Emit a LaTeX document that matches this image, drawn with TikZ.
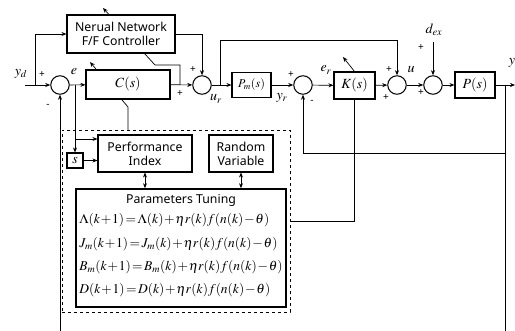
\documentclass[tikz,border=0pt]{standalone}
\usepackage{mathptmx}
\usepackage[no-math]{fontspec}
\setmainfont{Noto Sans}
\usetikzlibrary{arrows.meta}
\newcommand\tighteq[1]{$\medmuskip=1mu\thickmuskip=2mu #1$}
\begin{document}
\begin{tikzpicture}[x=1pt,y=-1pt,
  line width=0.7pt,
  >={Stealth[length=5pt,width=4pt]},
  blk/.style={draw, line width=1.1pt, fill=white, inner sep=0pt},
  sum/.style={draw, circle, line width=1pt, minimum size=18.5pt, inner sep=0pt, fill=white},
  lbl/.style={inner sep=0pt, font=\fontsize{14}{14}\selectfont},
  pm/.style={inner sep=0pt, font=\fontsize{10}{10}\selectfont},
  txt/.style={font=\fontsize{12.3}{14}\selectfont, align=center},
  eq/.style={anchor=west, inner sep=0pt, font=\fontsize{13.5}{13.5}\selectfont}
]
\useasboundingbox (0,0) rectangle (515,331);

% summing junctions
\node[sum] (s1) at (60,85) {};
\node[sum] (s2) at (202,85) {};
\node[sum] (s3) at (303,85) {};
\node[sum] (s4) at (397,85) {};
\node[sum] (s5) at (433,85) {};

% dashed box
\node[draw, dashed, line width=0.8pt, minimum width=228pt, minimum height=182pt, inner sep=0pt] (DB) at (176,221) {};

% adaptation paths (drawn behind boxes)
\coordinate (j1) at (180,85);
\draw[->] (j1) -- (180,65) -- (155,65) -- (103,8);
\draw[->] (128,130) -- (128,107) -- (90,62);

% blocks
\node[blk, txt, minimum width=108pt, minimum height=38pt] (NN) at (121,34) {Nerual Network\\F/F Controller};
\node[blk, lbl, minimum width=84pt, minimum height=29pt] (C) at (128,84.5) {$C(s)$};
\node[blk, minimum width=39pt, minimum height=25pt, font=\fontsize{12}{12}\selectfont] (Pm) at (251.5,85) {$P_m(s)$};
\node[blk, lbl, minimum width=41pt, minimum height=27pt] (K) at (354.5,85.5) {$K(s)$};
\node[blk, lbl, minimum width=40pt, minimum height=26pt] (P) at (475,85) {$P(s)$};
\node[blk, lbl, minimum width=16pt, minimum height=15pt] (S) at (75,160.5) {$s$};
\node[blk, txt, minimum width=94pt, minimum height=37pt] (PI) at (145,153.5) {Performance\\Index};
\node[blk, txt, minimum width=64pt, minimum height=37pt] (RV) at (241,153.5) {Random\\Variable};
\node[blk, line width=1.6pt, minimum width=210pt, minimum height=118pt] (PT) at (181,248) {};
\node[txt] (PTt) at (181,200) {Parameters Tuning};
\node[eq] (e1) at (79,220) {\tighteq{\Lambda(k+1)=\Lambda(k)+\eta r(k)f(n(k)-\theta)}};
\node[eq] (e2) at (79,244) {\tighteq{J_m(k+1)=J_m(k)+\eta r(k)f(n(k)-\theta)}};
\node[eq] (e3) at (79,267) {\tighteq{B_m(k+1)=B_m(k)+\eta r(k)f(n(k)-\theta)}};
\node[eq] (e4) at (79,290) {\tighteq{D(k+1)=D(k)+\eta r(k)f(n(k)-\theta)}};

% K adaptation arrow
\coordinate (ka) at (343,57);
\draw[->] (K.north) -- (ka);

% signals
\coordinate (yin) at (25,85);
\coordinate (b1) at (35,85);
\draw[->] (yin) -- (s1);
\draw[->] (b1) |- (NN.west);
\draw[->] (s1) -- (C);
\coordinate (eb) at (75,85);
\coordinate (eb2) at (75,139);
\draw[->] (eb) -- (S.north);
\draw[->] (eb2) -- (eb2 -| PI.west);
\draw[->] (S) -- (S -| PI.west);
\draw[->] (C) -- (s2);
\draw[->] (NN.east) -| (s2.north);
\draw[->] (s2) -- (Pm);
\coordinate (ub) at (220,85);
\draw[->] (ub) -- (220,40) -| (s4.north);
\draw[->] (Pm) -- (s3);
\draw[->] (s3) -- (K);
\draw[->] (K) -- (s4);
\draw[->] (s4) -- (s5);
\draw[->] (s5) -- (P);
\coordinate (yout) at (515,85);
\draw[->] (P) -- (yout);
\coordinate (yb) at (505,85);
\coordinate (ybot) at (505,331);
\draw[->] (yb) -- (505,153) -| (s3.south);
\draw (yb) -- (ybot);
\coordinate (lbot) at (60,331);
\draw[->] (lbot) -- (s1.south);
\coordinate (dtop) at (433,42);
\draw[->] (dtop) -- (s5.north);
\draw (K.south) |- (DB.east);
\draw[<->] (PI.south) -- (PI.south |- PT.north);
\draw[<->] (RV.south) -- (RV.south |- PT.north);

% labels
\node[lbl] (lyd) at (21,74) {$y_d$};
\node[lbl] (le) at (74,72) {$e$};
\node[lbl] (lur) at (216,99) {$u_r$};
\node[lbl] (lyr) at (282,98) {$y_r$};
\node[lbl] (ler) at (326,70) {$e_r$};
\node[lbl] (lu) at (411,70) {$u$};
\node[lbl] (ldex) at (434,30) {$d_{ex}$};
\node[lbl] (ly) at (512,63) {$y$};

\node[pm] (p1) at (42,75) {+};
\node[pm] (m1) at (48,106) {-};
\node[pm] (p2) at (180,94) {+};
\node[pm] (p3) at (193,70) {+};
\node[pm] (p4) at (291,75) {+};
\node[pm] (m3) at (312,102) {-};
\node[pm] (p5) at (389,70) {+};
\node[pm] (p6) at (386,98) {+};
\node[pm] (p7) at (421,48) {+};
\node[pm] (p8) at (421,93) {+};
\end{tikzpicture}
\end{document}
